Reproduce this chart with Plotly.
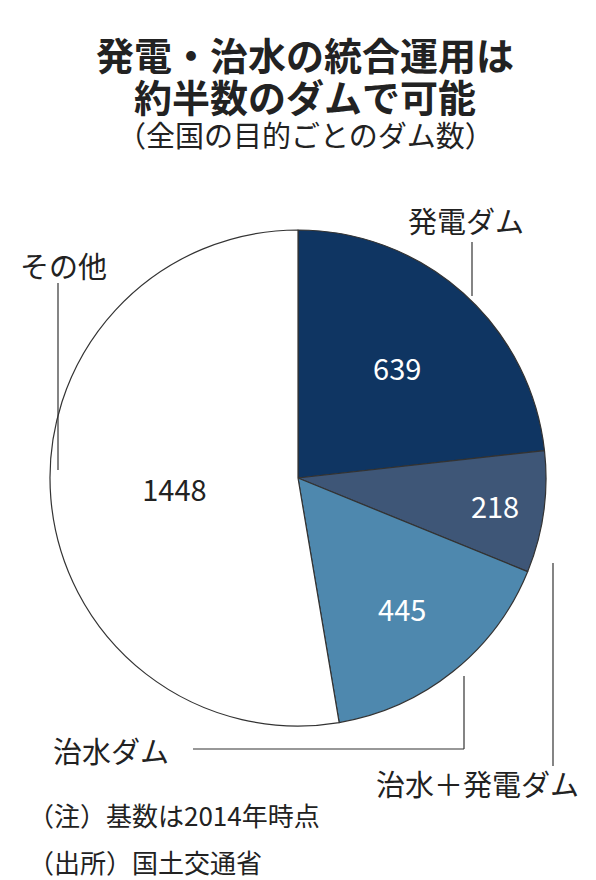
import plotly.graph_objects as go

# Dams by purpose (2014)
categories = ["発電ダム", "治水＋発電ダム", "治水ダム", "その他"]
counts = [639, 218, 445, 1448]
colors = ["#0f3562", "#3e5677", "#4e88ae", "#ffffff"]
text_colors = ["white", "white", "white", "#222222"]

font = "Noto Sans CJK JP"
W, H = 596, 880

fig = go.Figure(go.Pie(
    labels=categories,
    values=counts,
    sort=False,
    direction="clockwise",
    rotation=0,
    marker=dict(colors=colors, line=dict(color="#333333", width=1.2)),
    textinfo="value",
    textposition="inside",
    insidetextorientation="horizontal",
    textfont=dict(family=font, size=29, color=text_colors),
    hoverinfo="label+value",
    domain=dict(x=[42 / W, 538 / W], y=[1 - 719 / H, 1 - 221 / H]),
    showlegend=False,
))


def px(x, y):
    return x / W, 1 - y / H


annotations = [
    (297, 46, "<b>発電・治水の統合運用は</b>", 38, "center"),
    (297, 88, "<b>約半数のダムで可能</b>", 38, "center"),
    (297, 126, "（全国の目的ごとのダム数）", 29, "center"),
    (398, 212, "発電ダム", 29, "left"),
    (10, 257, "その他", 29, "left"),
    (43, 742, "治水ダム", 29, "left"),
    (366, 775, "治水＋発電ダム", 29, "left"),
    (18, 806, "（注）基数は2014年時点", 26, "left"),
    (18, 853, "（出所）国土交通省", 26, "left"),
]
for x, y, t, s, a in annotations:
    ax, ay = px(x, y)
    fig.add_annotation(x=ax, y=ay, xref="paper", yref="paper", text=t,
                       showarrow=False, xanchor=a, yanchor="middle",
                       font=dict(family=font, size=s, color="#222222"))

# leader lines
lines = [
    [(464, 234), (464, 288)],
    [(50, 275), (50, 462)],
    [(185, 741), (456, 741), (456, 668)],
    [(545, 758), (545, 555)],
]
for pts in lines:
    for (x0, y0), (x1, y1) in zip(pts[:-1], pts[1:]):
        a0, b0 = px(x0, y0)
        a1, b1 = px(x1, y1)
        fig.add_shape(type="line", xref="paper", yref="paper",
                      x0=a0, y0=b0, x1=a1, y1=b1,
                      line=dict(color="#333333", width=1.2))

fig.update_layout(
    width=W, height=H,
    margin=dict(l=0, r=0, t=0, b=0),
    paper_bgcolor="white",
    font=dict(family=font),
)

fig.write_html("out.html")
